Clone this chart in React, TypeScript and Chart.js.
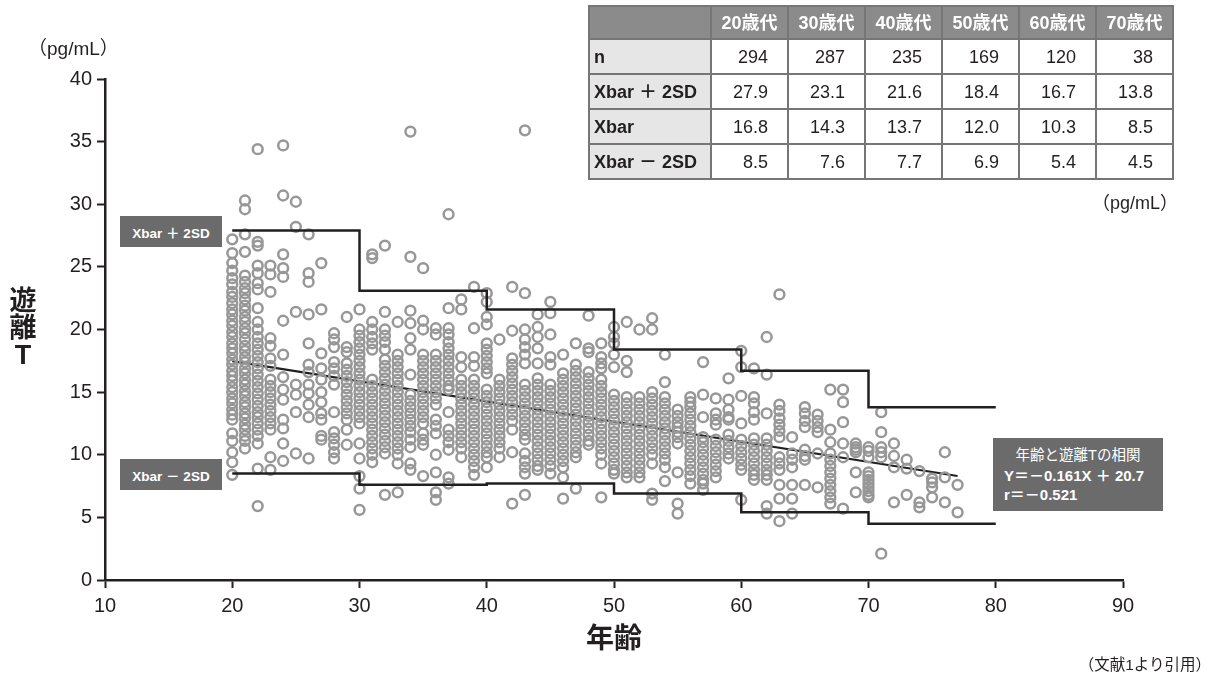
import React, { useEffect, useRef } from "react";
import { Chart, registerables } from "chart.js";

Chart.register(...registerables);

// ---------- data ----------
const ages = [
  20, 21, 22, 23, 24, 25, 26, 27, 28, 29,
  30, 31, 32, 33, 34, 35, 36, 37, 38, 39,
  40, 41, 42, 43, 44, 45, 46, 47, 48, 49,
  50, 51, 52, 53, 54, 55, 56, 57, 58, 59,
  60, 61, 62, 63, 64, 65, 66, 67, 68, 69,
  70, 71, 72, 73, 74, 75, 76, 77,
];

// free T values (pg/mL) read per age column
const freeTByAge = [
  [27.2, 26.1, 25.3, 24.7, 24.1, 23.6, 23.0, 22.6, 22.1, 21.6, 21.2, 20.7, 20.3, 19.8, 19.4, 18.9, 18.5, 18.1, 17.6, 17.2, 16.7, 16.3, 15.9, 15.4, 15.0, 14.5, 14.1, 13.6, 13.2, 12.8, 11.7, 11.1, 10.2, 9.4, 8.4],
  [30.3, 29.6, 27.6, 26.2, 24.3, 23.8, 23.3, 22.9, 22.4, 21.9, 21.5, 21.0, 20.6, 20.1, 19.7, 19.2, 18.7, 18.3, 17.8, 17.4, 16.9, 16.5, 16.0, 15.6, 15.1, 14.7, 14.2, 13.8, 13.3, 12.9, 12.4, 12.0, 11.5, 11.1, 10.5],
  [34.4, 27.0, 26.7, 25.1, 24.5, 23.7, 23.2, 21.7, 20.6, 20.0, 19.4, 18.9, 18.4, 17.9, 17.4, 16.9, 16.4, 15.9, 15.4, 14.9, 14.4, 13.9, 13.4, 13.0, 12.5, 12.0, 11.5, 10.9, 8.9, 5.9],
  [25.1, 24.4, 23.0, 19.3, 18.7, 17.7, 17.1, 16.0, 15.5, 15.0, 14.5, 14.0, 13.5, 13.0, 12.5, 12.0, 9.8, 8.8],
  [34.7, 30.7, 26.0, 24.9, 24.2, 20.7, 18.0, 16.2, 15.2, 14.4, 12.8, 12.1, 10.9, 9.5],
  [30.2, 28.2, 21.4, 15.6, 14.8, 13.4, 10.1],
  [27.6, 24.5, 23.8, 21.2, 18.9, 17.2, 16.6, 15.6, 14.9, 14.0, 13.0, 9.7],
  [25.3, 21.6, 18.1, 16.9, 16.0, 15.0, 14.2, 13.3, 12.8, 11.5, 11.2],
  [19.7, 19.2, 18.6, 17.4, 16.9, 16.3, 15.6, 13.4, 11.8, 11.3, 10.8, 10.2, 9.7],
  [21.0, 18.6, 18.2, 17.3, 16.8, 16.3, 15.8, 15.3, 14.8, 14.3, 13.8, 13.3, 12.8, 12.0, 10.8],
  [21.6, 20.0, 19.5, 19.0, 18.5, 18.0, 17.5, 17.0, 16.5, 16.0, 15.5, 15.0, 14.5, 14.0, 13.5, 13.0, 12.5, 10.9, 9.7, 8.3, 7.3, 5.6],
  [26.0, 25.7, 20.6, 20.0, 19.4, 18.9, 18.4, 16.0, 15.5, 15.0, 14.5, 14.0, 13.5, 13.0, 12.5, 12.0, 11.5, 11.0, 10.5, 10.0, 9.4],
  [26.7, 21.4, 20.0, 19.5, 19.0, 18.4, 17.6, 17.1, 16.6, 16.1, 15.6, 15.1, 14.6, 14.1, 13.6, 13.1, 12.6, 12.1, 11.6, 11.1, 10.6, 10.1, 6.8],
  [20.6, 18.0, 17.5, 17.0, 16.5, 16.0, 15.5, 15.0, 14.5, 14.0, 13.5, 13.0, 12.5, 12.0, 11.5, 11.0, 10.5, 10.0, 9.3, 7.0],
  [35.8, 25.8, 21.5, 20.5, 19.3, 18.4, 16.4, 14.8, 14.3, 13.8, 13.3, 12.8, 12.3, 11.8, 11.2, 10.6, 9.3, 8.8],
  [24.9, 20.7, 20.0, 18.0, 17.5, 17.0, 16.5, 16.0, 15.5, 15.0, 14.5, 14.0, 13.5, 13.0, 12.5, 11.7, 11.2, 10.8, 8.3],
  [20.1, 19.6, 18.0, 17.5, 17.0, 16.5, 16.0, 15.5, 15.0, 14.5, 14.0, 12.8, 12.3, 11.7, 10.0, 8.6, 7.0, 6.4],
  [29.2, 21.7, 20.1, 19.6, 19.0, 18.5, 18.0, 17.5, 17.0, 16.5, 16.0, 15.5, 15.2, 13.4, 12.0, 11.5, 11.0, 10.4, 8.2, 7.7],
  [22.4, 21.6, 17.8, 17.0, 16.0, 15.5, 15.0, 14.5, 14.0, 13.5, 13.0, 12.5, 12.0, 11.5, 11.0, 10.5, 9.8],
  [23.4, 20.1, 17.8, 17.1, 16.0, 15.5, 15.0, 14.5, 14.0, 13.5, 13.0, 12.5, 12.0, 11.5, 11.0, 10.5, 10.0, 9.5, 9.0, 8.4],
  [22.9, 22.2, 21.0, 20.4, 18.9, 18.4, 17.9, 17.4, 16.9, 16.5, 15.2, 14.7, 14.2, 13.7, 13.2, 12.7, 12.2, 11.7, 11.2, 10.7, 10.2, 9.8, 9.0],
  [19.2, 16.0, 15.5, 15.0, 14.5, 14.0, 13.5, 13.0, 12.5, 12.0, 11.5, 11.0, 10.5, 9.8],
  [23.4, 19.9, 17.7, 17.2, 16.7, 16.2, 15.7, 15.2, 14.7, 14.2, 13.7, 13.2, 12.7, 12.0, 10.2, 6.1],
  [35.9, 22.9, 20.0, 19.2, 18.6, 18.0, 17.3, 15.6, 15.1, 14.6, 14.1, 13.6, 13.1, 12.6, 12.1, 11.6, 11.2, 10.1, 9.5, 9.0, 8.5, 6.8],
  [21.2, 20.2, 19.4, 18.5, 17.3, 16.1, 15.6, 15.1, 14.6, 14.1, 13.6, 13.1, 12.6, 12.1, 11.6, 11.1, 10.6, 10.1, 9.6, 9.1, 8.8],
  [22.2, 21.3, 19.6, 17.8, 17.2, 15.6, 15.1, 14.6, 14.1, 13.6, 13.1, 12.6, 12.1, 11.6, 11.1, 10.6, 10.1, 9.6, 9.1, 8.5],
  [18.0, 16.5, 16.0, 15.5, 15.0, 14.5, 14.0, 13.5, 13.0, 12.5, 12.0, 11.5, 11.0, 10.5, 10.0, 9.5, 9.0, 8.2, 6.5],
  [18.9, 17.2, 16.7, 16.2, 15.7, 15.2, 14.7, 14.2, 13.7, 13.2, 12.7, 12.2, 11.7, 11.2, 10.7, 10.2, 9.8, 7.3],
  [21.1, 18.5, 18.2, 16.6, 16.1, 15.6, 15.1, 14.6, 14.1, 13.6, 13.1, 12.6, 12.1, 11.6, 11.1, 10.8],
  [18.9, 17.8, 17.3, 16.9, 16.0, 15.5, 15.0, 14.5, 14.0, 13.5, 13.0, 12.5, 12.0, 11.5, 11.0, 10.5, 10.0, 9.3, 6.6],
  [20.2, 19.4, 18.9, 18.0, 17.0, 14.8, 14.3, 13.8, 13.3, 12.8, 12.3, 11.8, 11.3, 10.8, 10.3, 9.8, 9.3, 8.8, 8.5],
  [20.6, 17.5, 16.6, 14.6, 14.1, 13.6, 13.1, 12.6, 12.1, 11.6, 11.1, 10.6, 10.1, 9.6, 9.1, 8.6, 8.2],
  [20.0, 14.6, 14.1, 13.6, 13.1, 12.6, 12.1, 11.6, 11.1, 10.6, 10.1, 9.6, 9.1, 8.6, 8.2],
  [20.9, 20.0, 15.0, 14.5, 14.0, 13.5, 13.0, 12.5, 12.0, 11.5, 11.0, 10.5, 10.0, 9.3, 6.9, 6.4],
  [18.0, 15.8, 14.6, 14.1, 13.6, 13.1, 12.6, 12.1, 11.6, 11.1, 10.6, 10.1, 9.6, 9.0, 7.9],
  [13.6, 13.1, 12.6, 12.2, 11.8, 11.4, 10.9, 8.6, 6.1, 5.3],
  [14.6, 14.2, 13.8, 13.3, 12.8, 12.3, 11.8, 11.3, 10.8, 10.3, 9.8, 9.3, 8.8, 8.3, 7.7],
  [17.4, 14.8, 13.0, 11.4, 11.0, 10.5, 10.0, 9.5, 9.0, 8.5, 8.0, 7.7, 7.2],
  [14.5, 13.3, 12.8, 12.4, 11.2, 10.7, 10.2, 9.7, 9.2, 8.7, 8.2],
  [16.1, 14.4, 13.6, 13.0, 12.8, 11.6, 11.1, 10.6, 10.1, 9.7],
  [18.3, 17.0, 14.7, 12.5, 11.2, 10.7, 10.2, 9.7, 9.2, 8.8, 6.4],
  [16.9, 14.6, 14.1, 13.4, 12.8, 11.3, 10.8, 10.3, 9.8, 9.3, 8.8, 8.4, 8.0],
  [19.4, 16.4, 13.3, 11.3, 10.8, 10.3, 9.8, 9.3, 8.8, 8.4, 8.0, 5.9, 5.3],
  [22.8, 14.0, 13.5, 12.9, 12.4, 11.9, 11.4, 9.8, 9.3, 8.8, 7.6, 6.5, 4.7],
  [11.4, 10.1, 9.6, 9.0, 7.6, 6.5, 5.3],
  [13.8, 13.3, 12.7, 12.2, 10.4, 9.9, 9.6, 7.6],
  [13.2, 12.7, 12.2, 11.8, 10.1, 7.4],
  [15.2, 12.0, 11.0, 10.1, 9.6, 9.1, 8.6, 8.1, 7.6, 7.1, 6.6, 6.1],
  [15.2, 14.2, 12.6, 10.9, 9.8, 5.7],
  [10.9, 10.6, 10.4, 10.2, 8.6, 7.0],
  [10.6, 10.3, 9.8, 8.6, 8.3, 8.0, 7.7, 7.4, 7.1, 6.8, 6.6],
  [13.4, 11.8, 10.6, 10.2, 9.8, 2.1],
  [10.9, 9.9, 9.0, 6.2],
  [9.6, 8.9, 6.8],
  [8.7, 6.2, 5.8],
  [8.1, 7.8, 7.4, 6.6],
  [10.2, 8.2, 6.2],
  [7.6, 5.4],
];

const decadeLabels = ["20歳代", "30歳代", "40歳代", "50歳代", "60歳代", "70歳代"];
const decadeEdges = [20, 30, 40, 50, 60, 70, 80];
const counts = [294, 287, 235, 169, 120, 38];
const upper2SD = [27.9, 23.1, 21.6, 18.4, 16.7, 13.8];
const means = [16.8, 14.3, 13.7, 12.0, 10.3, 8.5];
const lower2SD = [8.5, 7.6, 7.7, 6.9, 5.4, 4.5];

const regSlope = -0.161;
const regIntercept = 20.7;
const regAgeRange = [20, 77];

const xMin = 10, xMax = 90, xStep = 10;
const yMin = 0, yMax = 40, yStep = 5;

// ---------- styles ----------
const FONT = '"Liberation Sans", Arial, "Noto Sans CJK JP", sans-serif';
const INK = "#231f20";
const DOT = "#979797";
const BOX = "#6b6b6c";

function stepPoints(vals: number[]) {
  return decadeEdges.map((e, i) => ({ x: e, y: vals[Math.min(i, vals.length - 1)] }));
}

export default function App() {
  const ref = useRef<HTMLCanvasElement>(null);

  useEffect(() => {
    if (!ref.current) return;
    const scatter: { x: number; y: number }[] = [];
    ages.forEach((a, i) => freeTByAge[i].forEach((v) => scatter.push({ x: a, y: v })));
    const reg = regAgeRange.map((a) => ({ x: a, y: regSlope * a + regIntercept }));

    const chart = new Chart(ref.current, {
      type: "scatter",
      data: {
        datasets: [
          {
            type: "line",
            data: stepPoints(upper2SD),
            borderColor: INK,
            borderWidth: 2.5,
            pointRadius: 0,
            stepped: true,
            fill: false,
            order: 0,
          } as any,
          {
            type: "line",
            data: stepPoints(lower2SD),
            borderColor: INK,
            borderWidth: 2.5,
            pointRadius: 0,
            stepped: true,
            fill: false,
            order: 0,
          } as any,
          {
            type: "scatter",
            data: scatter,
            pointStyle: "circle",
            pointRadius: 4.9,
            pointBorderWidth: 2.5,
            borderColor: DOT,
            backgroundColor: "rgba(0,0,0,0)",
            order: 1,
          } as any,
          {
            type: "line",
            data: reg,
            borderColor: INK,
            borderWidth: 2.2,
            pointRadius: 0,
            fill: false,
            order: 2,
          } as any,
        ],
      },
      options: {
        responsive: false,
        maintainAspectRatio: false,
        devicePixelRatio: 1,
        animation: false,
        events: [],
        layout: { padding: { left: 0, right: 91, top: 79, bottom: 0 } },
        plugins: { legend: { display: false }, tooltip: { enabled: false }, title: { display: false } },
        scales: {
          x: {
            type: "linear",
            min: xMin,
            max: xMax,
            afterFit: (s: any) => { s.height = 97; },
            ticks: { stepSize: xStep, font: { size: 20, family: FONT }, color: INK, padding: 6, maxRotation: 0 },
            grid: { drawOnChartArea: false, drawTicks: true, tickLength: 8, tickWidth: 2, tickColor: INK },
            border: { display: true, color: INK, width: 2.5 },
          },
          y: {
            type: "linear",
            min: yMin,
            max: yMax,
            afterFit: (s: any) => { s.width = 105; },
            ticks: { stepSize: yStep, font: { size: 20, family: FONT }, color: INK, padding: 5 },
            grid: { drawOnChartArea: false, drawTicks: true, tickLength: 8, tickWidth: 2, tickColor: INK },
            border: { display: true, color: INK, width: 2.5 },
          },
        },
      } as any,
    });
    return () => chart.destroy();
  }, []);

  const cellBorder = "2px solid #767676";
  const th: React.CSSProperties = {
    background: "#8b8b8b",
    color: "#fff",
    fontWeight: "bold",
    border: cellBorder,
    height: 31,
    padding: 0,
    textAlign: "center",
    fontSize: 18,
    lineHeight: "20px",
  };
  const rowHead: React.CSSProperties = {
    background: "#e6e6e6",
    fontWeight: "bold",
    border: cellBorder,
    textAlign: "left",
    padding: "0 0 0 4px",
    fontSize: 18,
    height: 33,
    lineHeight: "20px",
    whiteSpace: "nowrap",
  };
  const td: React.CSSProperties = {
    background: "#fff",
    border: cellBorder,
    textAlign: "right",
    padding: "0 19px 0 0",
    fontSize: 18,
    height: 33,
    lineHeight: "20px",
  };
  const rows: { label: string; vals: string[] }[] = [
    { label: "n", vals: counts.map(String) },
    { label: "Xbar ＋ 2SD", vals: upper2SD.map((v) => v.toFixed(1)) },
    { label: "Xbar", vals: means.map((v) => v.toFixed(1)) },
    { label: "Xbar － 2SD", vals: lower2SD.map((v) => v.toFixed(1)) },
  ];

  const boxStyle: React.CSSProperties = {
    position: "absolute",
    background: BOX,
    color: "#fff",
    fontWeight: "bold",
    fontSize: 13.5,
    display: "flex",
    alignItems: "center",
    justifyContent: "center",
    whiteSpace: "nowrap",
  };

  return (
    <div
      style={{
        position: "fixed",
        left: 0,
        top: 0,
        width: 1214,
        height: 677,
        background: "#fff",
        fontFamily: FONT,
        color: INK,
        overflow: "hidden",
      }}
    >
      <canvas ref={ref} width={1214} height={677} style={{ position: "absolute", left: 0, top: 0 }} />

      {/* y unit */}
      <div style={{ position: "absolute", left: 28, top: 33, fontSize: 19, whiteSpace: "nowrap" }}>（pg/mL）</div>

      {/* y title, vertical */}
      <div
        style={{
          position: "absolute",
          left: 6,
          top: 288,
          width: 34,
          fontSize: 27,
          fontWeight: "bold",
          lineHeight: "27px",
          textAlign: "center",
        }}
      >
        <div>遊</div>
        <div>離</div>
        <div>T</div>
      </div>

      {/* x title */}
      <div
        style={{
          position: "absolute",
          left: 564,
          width: 100,
          top: 622,
          fontSize: 28,
          fontWeight: "bold",
          textAlign: "center",
          lineHeight: "34px",
        }}
      >
        年齢
      </div>

      {/* source */}
      <div style={{ position: "absolute", right: 3, top: 652, fontSize: 15.5, whiteSpace: "nowrap" }}>（文献1より引用）</div>

      {/* left labels */}
      <div style={{ ...boxStyle, left: 120, top: 216, width: 102, height: 31 }}>Xbar ＋ 2SD</div>
      <div style={{ ...boxStyle, left: 120, top: 459, width: 102, height: 31 }}>Xbar － 2SD</div>

      {/* correlation box */}
      <div
        style={{
          position: "absolute",
          left: 993,
          top: 438,
          width: 170,
          height: 73,
          background: BOX,
          color: "#fff",
        }}
      >
        <div style={{ position: "absolute", left: 0, width: 170, top: 8, textAlign: "center", fontSize: 14.5, lineHeight: "18px", whiteSpace: "nowrap" }}>
          年齢と遊離Tの相関
        </div>
        <div style={{ position: "absolute", left: 11, top: 29, fontSize: 15, fontWeight: "bold", lineHeight: "18px", whiteSpace: "nowrap" }}>
          Y＝－0.161X ＋ 20.7
        </div>
        <div style={{ position: "absolute", left: 11, top: 48, fontSize: 15, fontWeight: "bold", lineHeight: "18px", whiteSpace: "nowrap" }}>
          r＝－0.521
        </div>
      </div>

      {/* table */}
      <table
        style={{
          position: "absolute",
          left: 588,
          top: 5,
          width: 584,
          borderCollapse: "collapse",
          tableLayout: "fixed",
          fontFamily: FONT,
          color: INK,
        }}
      >
        <colgroup>
          <col style={{ width: 122 }} />
          {decadeLabels.map((d) => (
            <col key={d} style={{ width: 77 }} />
          ))}
        </colgroup>
        <thead>
          <tr>
            <th style={th}></th>
            {decadeLabels.map((d) => (
              <th key={d} style={th}>{d}</th>
            ))}
          </tr>
        </thead>
        <tbody>
          {rows.map((r) => (
            <tr key={r.label}>
              <td style={rowHead}>{r.label}</td>
              {r.vals.map((v, i) => (
                <td key={i} style={td}>{v}</td>
              ))}
            </tr>
          ))}
        </tbody>
      </table>
      <div style={{ position: "absolute", left: 1092, top: 188, fontSize: 18, whiteSpace: "nowrap" }}>（pg/mL）</div>
    </div>
  );
}
